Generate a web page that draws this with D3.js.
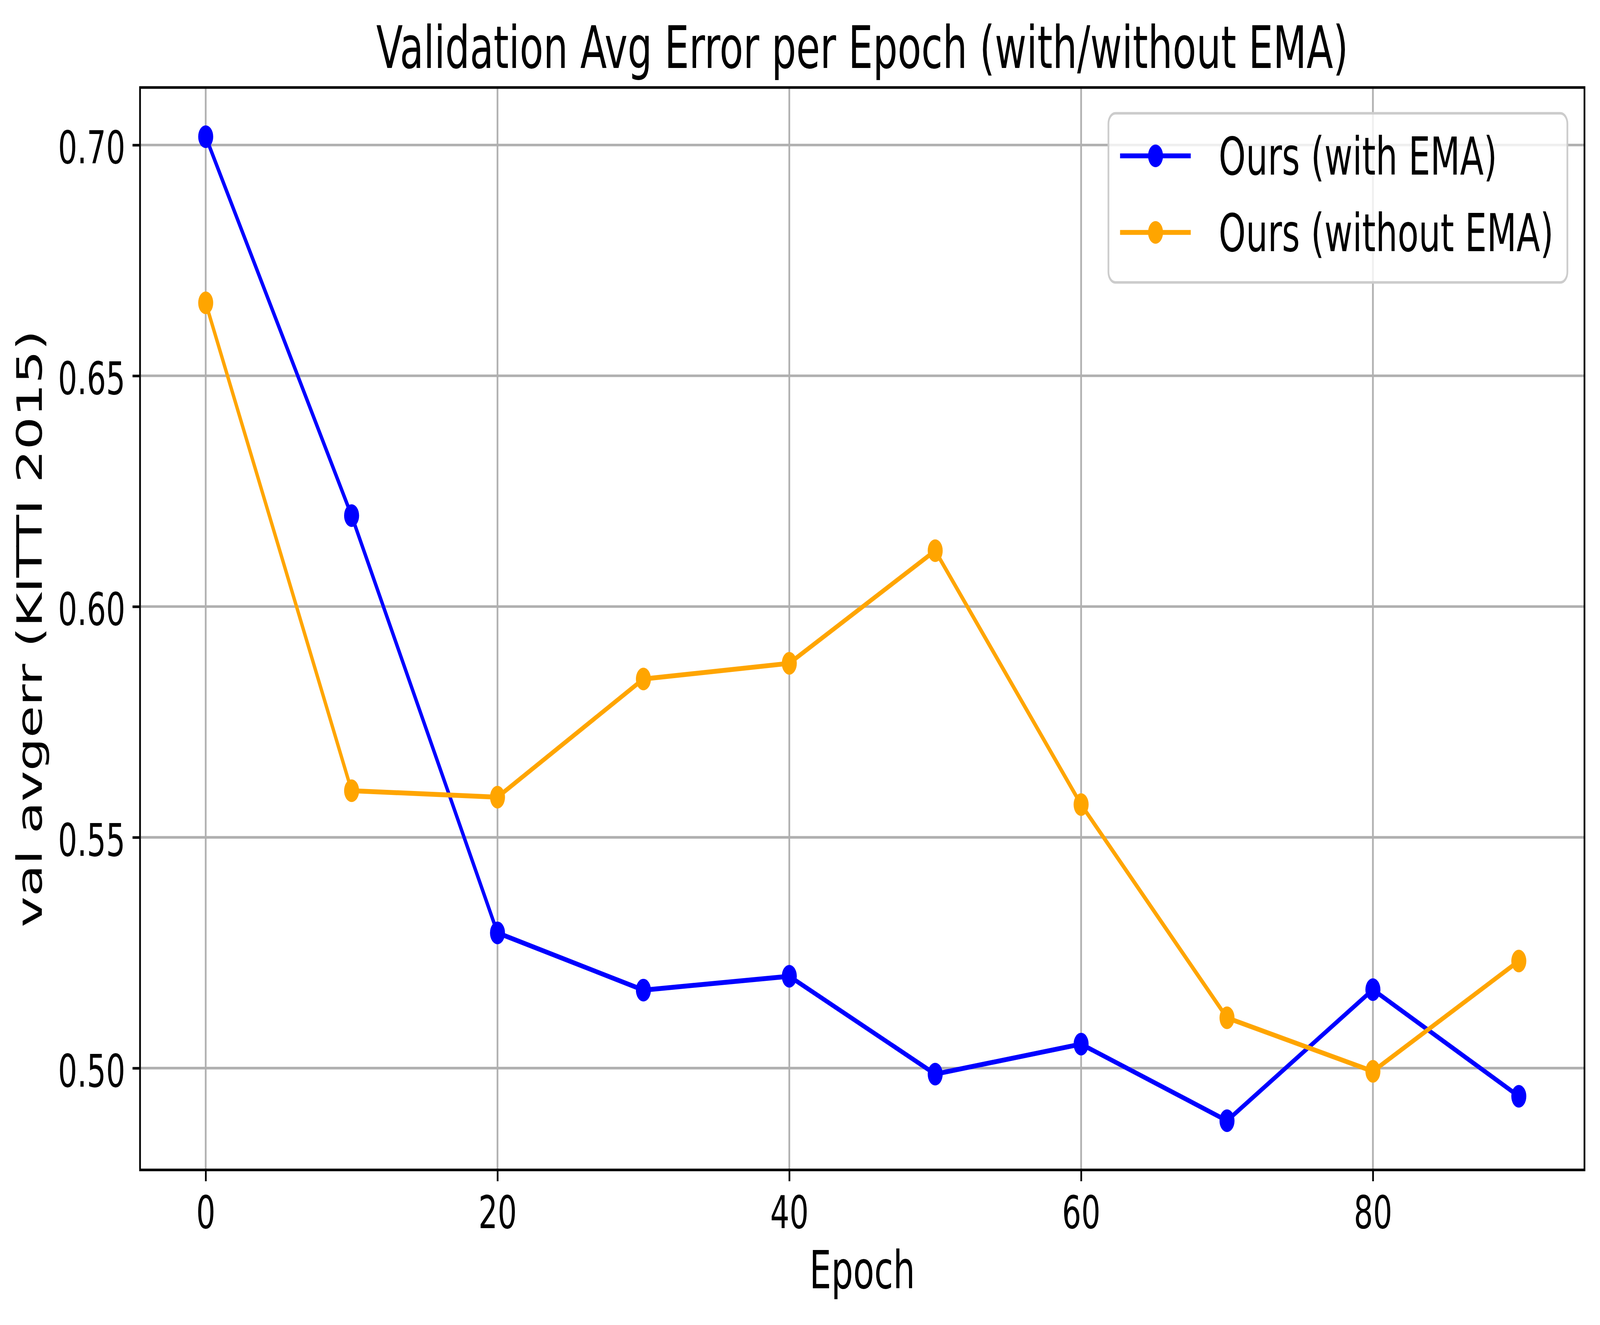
<!DOCTYPE html>
<html>
<head>
<meta charset="utf-8">
<script src="https://cdn.jsdelivr.net/npm/d3@7"></script>
<style>
  html, body { margin: 0; padding: 0; background: #ffffff; overflow: hidden; width: 100%; height: 100%; }
  svg { display: block; width: 100vw; height: 100vh; }
  text { font-family: "DejaVu Sans", sans-serif; fill: #000; }
</style>
</head>
<body>
<svg id="chart" viewBox="0 0 6181 3392" preserveAspectRatio="none"></svg>
<script>
// ---- data ----
const epochs = [0, 10, 20, 30, 40, 50, 60, 70, 80, 90];
const withEMA = [0.7018, 0.6197, 0.5293, 0.5169, 0.5199, 0.4987, 0.5052, 0.4886, 0.5170, 0.4939];
const withoutEMA = [0.6658, 0.5601, 0.5587, 0.5843, 0.5877, 0.6121, 0.5571, 0.5109, 0.4993, 0.5232];
const seriesNames = ["Ours (with EMA)", "Ours (without EMA)"];
const seriesColors = ["#0000ff", "#ffa500"];
const xTicks = [0, 20, 40, 60, 80];
const yTicks = [0.50, 0.55, 0.60, 0.65, 0.70];
const titleText = "Validation Avg Error per Epoch (with/without EMA)";
const xLabel = "Epoch";
const yLabel = "val avgerr (KITTI 2015)";

// ---- layout ----
const W = 6181, H = 3392;
const ax = { left: 541, top: 224, right: 6121, bottom: 2995 };
const lw = 6.67;         // 0.8pt
const lineW = 12.5;      // 1.5pt
const markerR = 29;
const tickLen = 29;
const tickFont = 116.7, labelFont = 133.3, titleFont = 150, legendFont = 133.3;

const svg = d3.select("#chart");
svg.append("rect").attr("width", W).attr("height", H).attr("fill", "#fff");

const series = [withEMA, withoutEMA];

// scales with matplotlib-style 5% margins
const xExt = d3.extent(epochs);
const xPad = (xExt[1] - xExt[0]) * 0.05;
const x = d3.scaleLinear().domain([xExt[0] - xPad, xExt[1] + xPad]).range([ax.left, ax.right]);
const allY = withEMA.concat(withoutEMA);
const yExt = d3.extent(allY);
const yPad = (yExt[1] - yExt[0]) * 0.05;
const y = d3.scaleLinear().domain([yExt[0] - yPad, yExt[1] + yPad]).range([ax.bottom, ax.top]);

// grid
const grid = svg.append("g");
grid.selectAll("line.gx").data(xTicks).enter().append("line")
  .attr("x1", d => x(d)).attr("x2", d => x(d))
  .attr("y1", ax.top).attr("y2", ax.bottom)
  .attr("stroke", "#b0b0b0").attr("stroke-width", lw);
grid.selectAll("line.gy").data(yTicks).enter().append("line")
  .attr("y1", d => y(d)).attr("y2", d => y(d))
  .attr("x1", ax.left).attr("x2", ax.right)
  .attr("stroke", "#b0b0b0").attr("stroke-width", lw);

// axes
const xAxis = d3.axisBottom(x).tickValues(xTicks).tickFormat(d3.format("d"))
  .tickSize(tickLen).tickPadding(37);
const gx = svg.append("g").attr("transform", `translate(0,${ax.bottom})`).call(xAxis);
gx.select(".domain").remove();
gx.selectAll(".tick line").attr("stroke", "#000").attr("stroke-width", lw);
gx.selectAll(".tick text").attr("font-size", tickFont).attr("font-family", "DejaVu Sans").attr("fill", "#000");

const yAxis = d3.axisLeft(y).tickValues(yTicks).tickFormat(d3.format(".2f"))
  .tickSize(tickLen).tickPadding(28);
const gy = svg.append("g").attr("transform", `translate(${ax.left},0)`).call(yAxis);
gy.select(".domain").remove();
gy.selectAll(".tick line").attr("stroke", "#000").attr("stroke-width", lw);
gy.selectAll(".tick text").attr("font-size", tickFont).attr("font-family", "DejaVu Sans")
  .attr("fill", "#000").attr("dy", "0.4em");

// lines + markers
const lineGen = d3.line().x((d, i) => x(epochs[i])).y(d => y(d));
const plot = svg.append("g");
series.forEach((s, k) => {
  plot.append("path").datum(s).attr("d", lineGen)
    .attr("fill", "none").attr("stroke", seriesColors[k]).attr("stroke-width", lineW)
    .attr("stroke-linejoin", "round").attr("stroke-linecap", "square");
  plot.selectAll(null).data(s).enter().append("circle")
    .attr("cx", (d, i) => x(epochs[i])).attr("cy", d => y(d)).attr("r", markerR)
    .attr("fill", seriesColors[k]);
});

// spines
svg.append("rect").attr("x", ax.left).attr("y", ax.top)
  .attr("width", ax.right - ax.left).attr("height", ax.bottom - ax.top)
  .attr("fill", "none").attr("stroke", "#000").attr("stroke-width", lw)
  .attr("stroke-linejoin", "miter");

// title and labels
svg.append("text").attr("x", (ax.left + ax.right) / 2).attr("y", 174)
  .attr("text-anchor", "middle").attr("font-size", titleFont).text(titleText);
svg.append("text").attr("x", (ax.left + ax.right) / 2).attr("y", 3298)
  .attr("text-anchor", "middle").attr("font-size", labelFont).text(xLabel);
svg.append("text").attr("transform", `translate(161,${(ax.top + ax.bottom) / 2}) rotate(-90)`)
  .attr("text-anchor", "middle").attr("font-size", labelFont).text(yLabel);

// legend
const leg = { x: 4282, y: 290, w: 1773, h: 433 };
const lg = svg.append("g");
lg.append("rect").attr("x", leg.x).attr("y", leg.y).attr("width", leg.w).attr("height", leg.h)
  .attr("rx", 27).attr("ry", 27)
  .attr("fill", "#fff").attr("fill-opacity", 0.8)
  .attr("stroke", "#cccccc").attr("stroke-width", lw);
const rowY = [399, 595];
seriesNames.forEach((name, k) => {
  const cy = rowY[k];
  lg.append("line").attr("x1", 4327).attr("x2", 4600).attr("y1", cy).attr("y2", cy)
    .attr("stroke", seriesColors[k]).attr("stroke-width", lineW);
  lg.append("circle").attr("cx", 4464).attr("cy", cy).attr("r", markerR).attr("fill", seriesColors[k]);
  lg.append("text").attr("x", 4708).attr("y", cy + 48).attr("font-size", legendFont).text(name);
});
</script>
</body>
</html>
